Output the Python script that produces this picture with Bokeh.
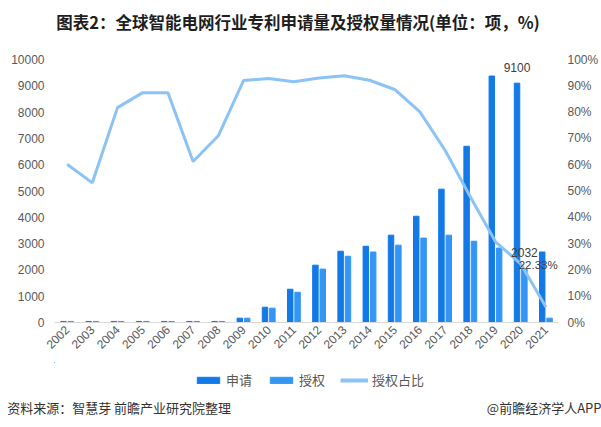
from bokeh.plotting import figure
from bokeh.layouts import column
from bokeh.models import (ColumnDataSource, FactorRange, Range1d, LinearAxis, FixedTicker,
                          NumeralTickFormatter, Legend, LegendItem, LabelSet)
from bokeh.core.properties import value
from bokeh.transform import dodge
from bokeh.embed import file_html
from bokeh.resources import INLINE
from math import pi

years = ["2002", "2003", "2004", "2005", "2006", "2007", "2008", "2009", "2010", "2011",
         "2012", "2013", "2014", "2015", "2016", "2017", "2018", "2019", "2020", "2021"]
apply_cnt = [40, 40, 40, 40, 40, 40, 40, 165, 580, 1265,
             2180, 2710, 2900, 3320, 4040, 5070, 6700, 9370, 9100, 2680]
grant_cnt = [40, 40, 40, 40, 40, 40, 40, 165, 545, 1150,
             2030, 2520, 2680, 2940, 3210, 3320, 3090, 2830, 2032, 165]
grant_ratio = [0.602, 0.531, 0.817, 0.874, 0.874, 0.612, 0.710, 0.920, 0.928, 0.915,
               0.930, 0.938, 0.921, 0.886, 0.801, 0.655, 0.478, 0.307, 0.2233, 0.059]
left_ticks = [0, 1000, 2000, 3000, 4000, 5000, 6000, 7000, 8000, 9000, 10000]
right_ticks = [0, 0.1, 0.2, 0.3, 0.4, 0.5, 0.6, 0.7, 0.8, 0.9, 1.0]

title_text = "图表2：全球智能电网行业专利申请量及授权量情况(单位：项，%)"
source_text = "资料来源：智慧芽 前瞻产业研究院整理"
brand_text = "@前瞻经济学人APP"
legend_labels = ["申请", "授权", "授权占比"]

C_APPLY = "#1279E6"
C_GRANT = "#3396F4"
C_RATIO = "#8CC3F5"
C_TICK = "#595959"
CJK = "Noto Sans CJK SC"
NUM = "Liberation Sans"

W = 601
FL, FR = 54, 561          # plot frame left/right edge (pixels), shared by every strip


def strip(h, top=0, bottom=0):
    s = figure(width=W, height=h, x_range=Range1d(FL, FR), y_range=Range1d(h, 0),
               x_axis_type=None, y_axis_type=None, output_backend="svg",
               toolbar_location=None, min_border_left=FL, min_border_right=W - FR,
               min_border_top=top, min_border_bottom=bottom)
    s.grid.visible = False
    s.outline_line_color = None
    s.border_fill_color = "white"
    s.background_fill_color = "white"
    return s


def plain_axis(ax, standoff, font, size, color):
    ax.axis_line_color = None
    ax.major_tick_line_color = None
    ax.minor_tick_line_color = None
    ax.major_tick_out = 0
    ax.major_tick_in = 0
    ax.minor_tick_out = 0
    ax.major_label_standoff = standoff
    ax.major_label_text_font = font
    ax.major_label_text_font_size = size
    ax.major_label_text_color = color


# ---- title strip
t = strip(51)
t.text(x=[299], y=[21], text=[title_text], text_align="center", text_baseline="middle",
       text_font=value(CJK), text_font_size="16.5px", text_font_style="bold",
       text_color="#1E1E1E")

# ---- main chart
src = ColumnDataSource(dict(year=years, apply=apply_cnt, grant=grant_cnt, ratio=grant_ratio))

p = figure(width=W, height=311, x_range=FactorRange(factors=years, range_padding=0),
           y_range=Range1d(0, 10000), output_backend="svg", toolbar_location=None,
           min_border_left=FL, min_border_right=W - FR, min_border_top=8,
           min_border_bottom=40)
p.extra_y_ranges = {"pct": Range1d(0, 1)}
p.outline_line_color = None
p.xgrid.grid_line_color = None
p.ygrid.grid_line_color = None
p.background_fill_color = "white"
p.border_fill_color = "white"

r_apply = p.vbar(x=dodge("year", -0.146, range=p.x_range), top="apply", width=0.217,
                 source=src, color=C_APPLY)
r_grant = p.vbar(x=dodge("year", 0.146, range=p.x_range), top="grant", width=0.217,
                 source=src, color=C_GRANT)
r_ratio = p.line(x="year", y="ratio", source=src, y_range_name="pct",
                 line_color=C_RATIO, line_width=3)

xa = p.xaxis[0]
plain_axis(xa, 5, NUM, "12px", C_TICK)
xa.axis_line_color = "#D9D9D9"
xa.major_label_orientation = pi / 4

ya = p.yaxis[0]
ya.ticker = FixedTicker(ticks=left_ticks)
plain_axis(ya, 10, NUM, "12px", C_TICK)

ra = LinearAxis(y_range_name="pct", ticker=FixedTicker(ticks=right_ticks),
                formatter=NumeralTickFormatter(format="0%"))
plain_axis(ra, 9, NUM, "12px", C_TICK)
p.add_layout(ra, "right")

lab_apply = ColumnDataSource(dict(year=["2020"], v=[9100], t=["9100"]))
lab_grant = ColumnDataSource(dict(year=["2020"], v=[2032], t=["2032"]))
lab_ratio = ColumnDataSource(dict(year=["2020"], v=[0.2233], t=["22.33%"]))
for s, dx, rng, xo, yo, align, base, fs in [
        (lab_apply, -0.146, "default", 0, 11, "center", "bottom", "12px"),
        (lab_grant, 0.146, "default", 0, 12, "center", "bottom", "12px"),
        (lab_ratio, 0.0, "pct", 37, -1, "right", "middle", "11.5px")]:
    ls = LabelSet(x=dodge("year", dx, range=p.x_range), y="v", text="t", source=s,
                  y_range_name=rng, x_offset=xo, y_offset=yo, text_align=align,
                  text_baseline=base, text_font=value(NUM), text_font_size=fs,
                  text_color="#404040")
    p.add_layout(ls)

# ---- legend strip (key swatches styled like the chart's renderers, drawn off-frame)
g = strip(30)
key_src = ColumnDataSource(dict(x=[-100, -90], y=[0, 0]))
k1 = g.vbar(x="x", top="y", width=1, source=key_src, color=C_APPLY)
k2 = g.vbar(x="x", top="y", width=1, source=key_src, color=C_GRANT)
k3 = g.line(x="x", y="y", source=key_src, line_color=C_RATIO, line_width=4)
legend = Legend(items=[LegendItem(label=legend_labels[0], renderers=[k1]),
                       LegendItem(label=legend_labels[1], renderers=[k2]),
                       LegendItem(label=legend_labels[2], renderers=[k3])],
                orientation="horizontal", location=(194 - FL, 3))
legend.label_text_font = CJK
legend.label_text_font_size = "13px"
legend.label_text_color = C_TICK
legend.glyph_width = 28
legend.glyph_height = 8
legend.label_standoff = 4
legend.spacing = 15
legend.padding = 0
legend.margin = 0
legend.border_line_color = None
legend.background_fill_alpha = 0
g.add_layout(legend, "center")

# ---- footer strip: source (left) and publisher (right) on one line
f = strip(35, top=0, bottom=33)
foot_ticks = [119, 547]
fa = LinearAxis(ticker=FixedTicker(ticks=foot_ticks),
                major_label_overrides={foot_ticks[0]: source_text, foot_ticks[1]: brand_text})
plain_axis(fa, 3, CJK, "13px", "#333333")
f.add_layout(fa, "below")

layout = column(t, p, g, f, spacing=0)
open("out.html", "w").write(file_html(layout, INLINE))
